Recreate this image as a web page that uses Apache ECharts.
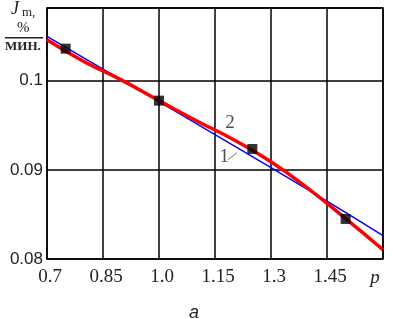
<!DOCTYPE html>
<html>
<head>
<meta charset="utf-8">
<script src="https://cdn.jsdelivr.net/npm/echarts@6/dist/echarts.min.js"></script>
<style>html,body{margin:0;padding:0;background:#fff}#c{width:393px;height:319px}</style>
</head>
<body>
<div id="c"></div>
<script>
// Data
var xTickLabels = ['0.7', '0.85', '1.0', '1.15', '1.3', '1.45', 'p'];
var yTickValues = [0.08, 0.09, 0.1];
var curve1X = [0.7, 0.85, 1.0, 1.15, 1.3, 1.45, 1.6];
var curve1Y = [0.10497, 0.10129, 0.09764, 0.09394, 0.09024, 0.08648, 0.08261];
var curve2X = [0.7, 0.8, 0.9, 1.0, 1.1, 1.2, 1.3, 1.4, 1.5, 1.6];
var curve2Y = [0.10460, 0.10213, 0.10006, 0.09776, 0.09551, 0.09338, 0.09091, 0.08789, 0.08452, 0.08104];
var expX = [0.75, 1.0, 1.25, 1.5];
var expY = [0.10359, 0.09776, 0.09234, 0.08449];
var label2Pos = [1.19, 0.09525];
var label1Pos = [1.175, 0.09148];
var leader1 = [[1.185, 0.09114], [1.209, 0.09192]];

function zip(a, b) { return a.map(function (v, i) { return [v, b[i]]; }); }

var chart = echarts.init(document.getElementById('c'), null, { renderer: 'canvas' });
var option = {
  animation: false,
  backgroundColor: '#fff',
  grid: { left: 47, right: 10, top: 8, bottom: 60, show: true, borderColor: '#000', borderWidth: 1.5, backgroundColor: 'transparent' },
  xAxis: {
    type: 'value', min: 0.7, max: 1.6, interval: 0.15,
    axisLine: { show: false }, axisTick: { show: false },
    splitLine: { show: true, lineStyle: { color: '#000', width: 1.5 } },
    axisLabel: {
      margin: 9,
      fontFamily: 'Liberation Serif', fontSize: 19, color: '#222',
      formatter: function (v) {
        var i = Math.round((v - 0.7) / 0.15);
        if (i === xTickLabels.length - 1) return '{p|' + xTickLabels[i] + '}';
        return '{n|' + (xTickLabels[i] || '') + '}';
      },
      rich: {
        n: { fontFamily: 'Liberation Serif', fontSize: 19, color: '#222', padding: [0, 0, 0, 6] },
        p: { fontFamily: 'Liberation Serif', fontSize: 19, fontStyle: 'italic', color: '#222', padding: [0, 16, 0, 0] }
      }
    }
  },
  yAxis: {
    type: 'value', min: 0.08, max: 0.10815, interval: 0.01,
    axisLine: { show: false }, axisTick: { show: false },
    splitLine: { show: true, lineStyle: { color: '#000', width: 1.5 } },
    axisLabel: {
      margin: 4, fontFamily: 'Liberation Sans', fontSize: 17, color: '#222',
      formatter: function (v) {
        for (var i = 0; i < yTickValues.length; i++) {
          if (Math.abs(v - yTickValues[i]) < 1e-6) return String(yTickValues[i]);
        }
        return '';
      }
    }
  },
  series: [
    { name: '1', type: 'line', data: zip(curve1X, curve1Y), smooth: true, symbol: 'none',
      lineStyle: { color: '#0000ff', width: 1.5 }, z: 2 },
    { name: '2', type: 'line', data: zip(curve2X, curve2Y), smooth: true, symbol: 'none',
      lineStyle: { color: '#ff0000', width: 3.5 }, z: 3 },
    { name: 'exp', type: 'scatter', data: zip(expX, expY), symbol: 'rect', symbolSize: 10,
      itemStyle: { color: '#000' }, z: 4 },
    { name: 'leader', type: 'line', data: leader1, symbol: 'none', lineStyle: { color: '#777', width: 1 }, z: 4 },
    { name: 'labels', type: 'scatter', symbolSize: 0, z: 5,
      data: [
        { value: label2Pos, label: { formatter: '2' } },
        { value: label1Pos, label: { formatter: '1' } }
      ],
      label: { show: true, position: 'inside', fontFamily: 'Liberation Serif', fontSize: 19, color: '#222' }
    }
  ],
  graphic: [
    { type: 'text', left: 11, top: 0, style: { text: 'J', font: 'italic 18px "Liberation Serif"', fill: '#222' } },
    { type: 'text', left: 22, top: 6, style: { text: 'm,', font: '13px "Liberation Serif"', fill: '#222' } },
    { type: 'text', left: 17, top: 21, style: { text: '%', font: '15px "Liberation Serif"', fill: '#222' } },
    { type: 'rect', shape: { x: 5, y: 37, width: 38, height: 1.5 }, style: { fill: '#222' } },
    { type: 'text', left: 5, top: 40, style: { text: 'МИН.', font: 'bold 13px "Liberation Serif"', fill: '#222' } },
    { type: 'text', left: 189, top: 304, style: { text: 'a', font: 'italic 18px "Liberation Sans"', fill: '#222' } }
  ]
};
chart.setOption(option);
</script>
</body>
</html>
